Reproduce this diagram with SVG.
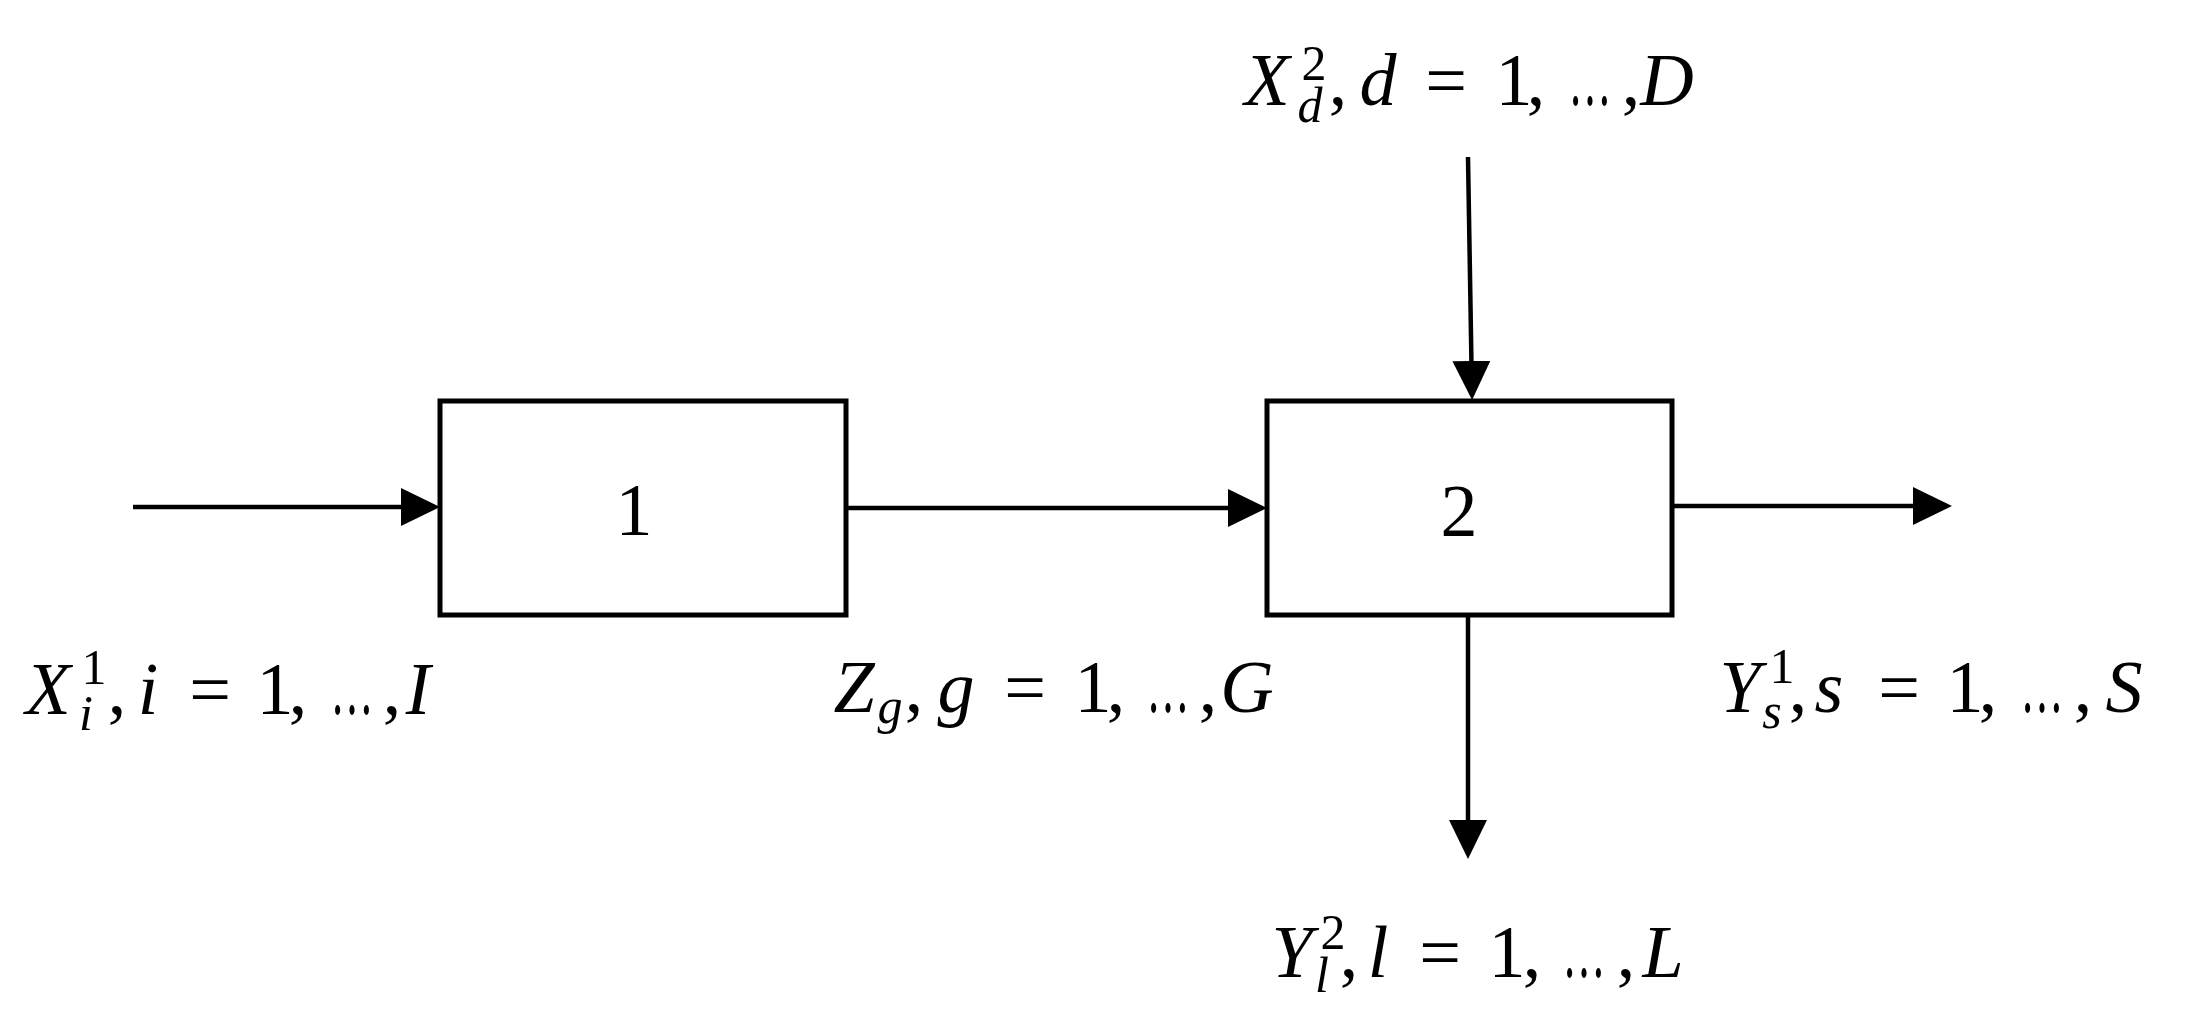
<svg xmlns="http://www.w3.org/2000/svg" width="2185" height="1024" viewBox="0 0 2185 1024">
<defs>
<style>
.box{fill:#fff;stroke:#000;stroke-width:5}
.ln{stroke:#000;stroke-width:4.5;fill:none;marker-end:url(#ah)}
.t{font-family:"Liberation Serif","Times New Roman",serif;font-size:74px;text-anchor:middle;fill:#000}
.e{font-size:84px}
.i{font-style:italic}
.s{font-size:50px}
.n{font-family:"Liberation Serif","Times New Roman",serif;font-size:74px;text-anchor:middle;fill:#000}
</style>
<marker id="ah" markerUnits="userSpaceOnUse" markerWidth="39" markerHeight="38" viewBox="0 0 39 38" refX="34" refY="19" orient="auto">
<path d="M0,0 L39,19 L0,38 z" fill="#000"/>
</marker>
</defs>
<rect width="2185" height="1024" fill="#fff"/>
<g id="connectors">
<line class="ln" x1="133" y1="507" x2="435" y2="507"/>
<line class="ln" x1="846" y1="508" x2="1262" y2="508"/>
<line class="ln" x1="1672" y1="506" x2="1947" y2="506"/>
<line class="ln" x1="1468" y1="157" x2="1472" y2="395"/>
<line class="ln" x1="1468" y1="615" x2="1468" y2="854"/>
</g>
<g id="node1">
<rect class="box" x="440" y="401" width="406" height="214"/>
<text class="n" x="634" y="535">1</text>
</g>
<g id="node2">
<rect class="box" x="1267" y="401" width="405" height="214"/>
<text class="n" x="1459" y="536">2</text>
</g>
<g id="label-xi">
<text class="t"><tspan class="i" x="48" y="714">X</tspan><tspan class="s" x="94" y="684">1</tspan><tspan class="i s" x="86" y="730">i</tspan><tspan x="117" y="714">,</tspan><tspan class="i" x="148" y="714">i</tspan><tspan x="210" y="714">=</tspan><tspan x="275" y="714">1</tspan><tspan x="298" y="714">,</tspan><tspan class="e" x="352" y="714" textLength="43" lengthAdjust="spacingAndGlyphs">…</tspan><tspan x="392" y="714">,</tspan><tspan class="i" x="418" y="714">I</tspan></text>
</g>
<g id="label-zg">
<text class="t"><tspan class="i" x="854" y="712">Z</tspan><tspan class="i s" x="890" y="723">g</tspan><tspan x="914" y="712">,</tspan><tspan class="i" x="956" y="712">g</tspan><tspan x="1025" y="712">=</tspan><tspan x="1093" y="712">1</tspan><tspan x="1116" y="712">,</tspan><tspan class="e" x="1168" y="712" textLength="43" lengthAdjust="spacingAndGlyphs">…</tspan><tspan x="1208" y="712">,</tspan><tspan class="i" x="1247" y="712">G</tspan></text>
</g>
<g id="label-ys">
<text class="t"><tspan class="i" x="1740" y="712">Y</tspan><tspan class="s" x="1782" y="683">1</tspan><tspan class="i s" x="1772" y="728">s</tspan><tspan x="1798" y="712">,</tspan><tspan class="i" x="1829" y="712">s</tspan><tspan x="1899" y="712">=</tspan><tspan x="1965" y="712">1</tspan><tspan x="1988" y="712">,</tspan><tspan class="e" x="2042" y="712" textLength="43" lengthAdjust="spacingAndGlyphs">…</tspan><tspan x="2083" y="712">,</tspan><tspan class="i" x="2124" y="712">S</tspan></text>
</g>
<g id="label-yl">
<text class="t"><tspan class="i" x="1292" y="977">Y</tspan><tspan class="s" x="1333" y="949">2</tspan><tspan class="i s" x="1322" y="992">l</tspan><tspan x="1349" y="977">,</tspan><tspan class="i" x="1378" y="977">l</tspan><tspan x="1440" y="977">=</tspan><tspan x="1507" y="977">1</tspan><tspan x="1532" y="977">,</tspan><tspan class="e" x="1584" y="977" textLength="43" lengthAdjust="spacingAndGlyphs">…</tspan><tspan x="1626" y="977">,</tspan><tspan class="i" x="1663" y="977">L</tspan></text>
</g>
<g id="label-xd">
<text class="t"><tspan class="i" x="1267" y="105">X</tspan><tspan class="s" x="1314" y="80">2</tspan><tspan class="i s" x="1310" y="122">d</tspan><tspan x="1338" y="105">,</tspan><tspan class="i" x="1378" y="105">d</tspan><tspan x="1446" y="105">=</tspan><tspan x="1514" y="105">1</tspan><tspan x="1536" y="105">,</tspan><tspan class="e" x="1590" y="105" textLength="43" lengthAdjust="spacingAndGlyphs">…</tspan><tspan x="1631" y="105">,</tspan><tspan class="i" x="1667" y="105">D</tspan></text>
</g>
</svg>
